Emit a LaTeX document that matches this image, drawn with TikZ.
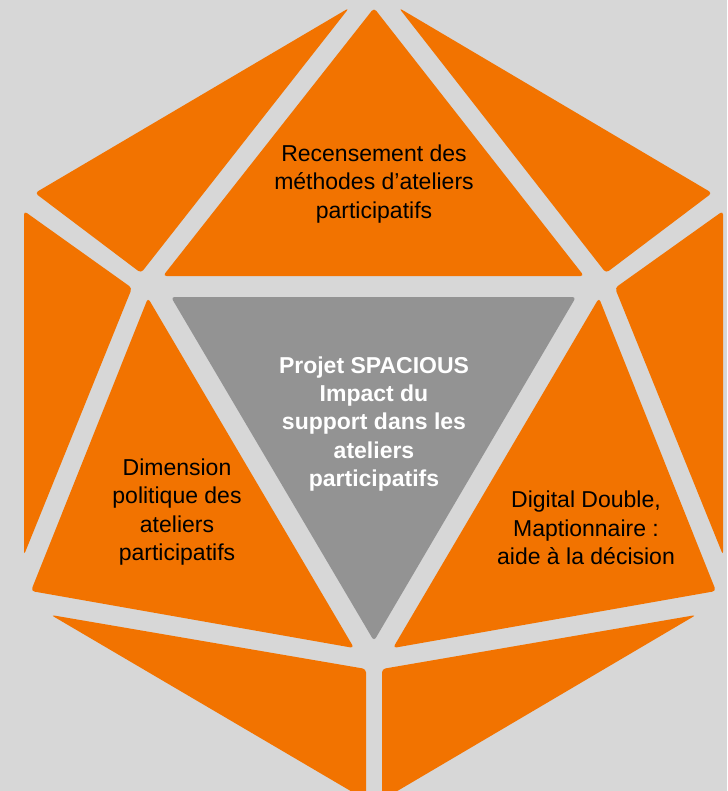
\documentclass[tikz,border=0pt]{standalone}
\usepackage{fontspec}
\setmainfont{Liberation Sans}
\definecolor{bg}{HTML}{D7D7D7}
\definecolor{orng}{HTML}{F27300}
\definecolor{midgray}{HTML}{939393}
\begin{document}
\begin{tikzpicture}[x=1pt,y=-1pt,
  face/.style={fill=orng, rounded corners=3.5pt},
  core/.style={fill=midgray, rounded corners=3.5pt},
  lbl/.style={align=center, font=\fontsize{23}{28.6}\selectfont, text=black, inner sep=0pt},
  corelbl/.style={align=center, font=\fontsize{23}{28.4}\selectfont\bfseries, text=white, inner sep=0pt}]
\useasboundingbox (0,0) rectangle (727,791);
\fill[bg] (0,0) rectangle (727,791);
\clip (0,0) rectangle (727,791);
% top row
\path[face] (349,8) -- (35,193) -- (141,273) -- cycle;
\path[face] (374,8) -- (163,276) -- (584,276) -- cycle;
\path[face] (399,8) -- (712,193) -- (606,273) -- cycle;
% side strips
\path[face] (24,211) -- (132,288) -- (24,555) -- cycle;
\path[face] (723,211) -- (615,288) -- (723,555) -- cycle;
% middle row
\path[face] (148,298) -- (31,591) -- (354,648) -- cycle;
\path[core] (171,297) -- (576,297) -- (374,641) -- cycle;
\path[face] (599,298) -- (716,591) -- (393,648) -- cycle;
% bottom row
\path[face] (51,615) -- (366,669) -- (366,800) -- cycle;
\path[face] (696,615) -- (382,669) -- (382,800) -- cycle;
% labels
\node[lbl] (top) at (374,184) {Recensement des\\méthodes d’ateliers\\participatifs};
\node[corelbl] (center) at (374,424) {Projet SPACIOUS\\Impact du\\support dans les\\ateliers\\participatifs};
\node[lbl] (left) at (177,512) {Dimension\\politique des\\ateliers\\participatifs};
\node[lbl] (right) at (586,528) {Digital Double,\\Maptionnaire :\\aide à la décision};
\end{tikzpicture}
\end{document}
